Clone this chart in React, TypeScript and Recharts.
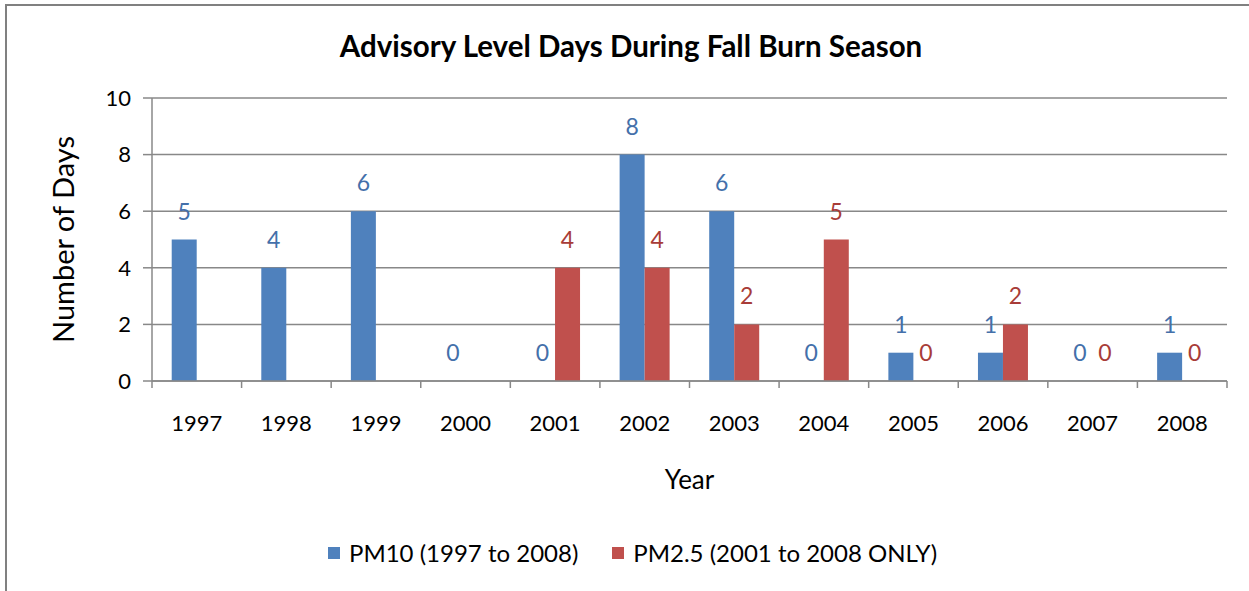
import React from 'react';
import { BarChart, Bar, XAxis, YAxis, CartesianGrid, Legend, LabelList } from 'recharts';

const years = ['1997', '1998', '1999', '2000', '2001', '2002', '2003', '2004', '2005', '2006', '2007', '2008'];
const pm10 = [5, 4, 6, 0, 0, 8, 6, 0, 1, 1, 0, 1];
const pm25: (number | null)[] = [null, null, null, null, 4, 4, 2, 5, 0, 2, 0, 0];
const yTicks = [0, 2, 4, 6, 8, 10];

const BLUE = '#4F81BD';
const RED = '#C0504D';
const AXIS = '#888';
const FONT = 'Lato, "Open Sans", sans-serif';

const data = years.map((year, i) => ({ year, pm10: pm10[i], pm25: pm25[i] }));

const legendItems = [
    { label: 'PM10 (1997 to 2008)', color: BLUE },
    { label: 'PM2.5 (2001 to 2008 ONLY)', color: RED },
];

// zero values still need their "0" label, so give them a hair-thin bar
const zeroPoint = (value: any) => (value === 0 ? 0.1 : 0);

// Excel-style: labels centred on the category, tick marks on the boundaries
const YearTick = (props: any) => {
    const { x, y, payload, index, visibleTicksCount, width } = props;
    const half = payload.offset || width / visibleTicksCount / 2;
    const top = y - 34;
    return (
        <g>
            <line x1={x - half} y1={top} x2={x - half} y2={top + 7} stroke={AXIS} strokeWidth={1.5} />
            {index === visibleTicksCount - 1 && (
                <line x1={x + half} y1={top} x2={x + half} y2={top + 7} stroke={AXIS} strokeWidth={1.5} />
            )}
            <text x={x} y={y} dy="0.71em" textAnchor="middle" fill="#000" fontSize={22} fontFamily={FONT}>
                {payload.value}
            </text>
        </g>
    );
};

const renderLegend = () => (
    <div style={{ display: 'flex', alignItems: 'center', fontFamily: FONT, fontSize: 24, color: '#000', whiteSpace: 'nowrap' }}>
        {legendItems.map((item) => (
            <div key={item.label} style={{ display: 'flex', alignItems: 'center', marginRight: 34 }}>
                <span style={{ width: 12, height: 12, background: item.color, marginRight: 9, display: 'inline-block' }} />
                <span>{item.label}</span>
            </div>
        ))}
    </div>
);

const App: React.FC = () => {
    return (
        <div style={{ position: 'absolute', left: 0, top: 0, width: 1249, height: 591, overflow: 'hidden', background: '#fff' }}>
            <div
                style={{
                    position: 'absolute',
                    left: 0,
                    top: 30,
                    width: 1262,
                    textAlign: 'center',
                    fontFamily: FONT,
                    fontWeight: 'bold',
                    fontSize: 29.5,
                    lineHeight: '32px',
                    color: '#000',
                }}
            >
                Advisory Level Days During Fall Burn Season
            </div>
            <div style={{ position: 'absolute', left: 0, top: 0 }}>
                <BarChart
                    width={1249}
                    height={591}
                    data={data}
                    margin={{ top: 98, right: 22, left: 92, bottom: 100 }}
                    barCategoryGap="22%"
                    barGap={0}
                >
                    <CartesianGrid vertical={false} stroke={AXIS} strokeWidth={1.5} />
                    <XAxis
                        dataKey="year"
                        height={110}
                        tickLine={false}
                        axisLine={{ stroke: AXIS, strokeWidth: 1.5 }}
                        tickMargin={34}
                        tickSize={0}
                        tick={<YearTick />}
                        label={{ value: 'Year', position: 'insideBottom', offset: 2, fill: '#000', fontSize: 26, fontFamily: FONT }}
                    />
                    <YAxis
                        width={60}
                        domain={[0, 10]}
                        ticks={yTicks}
                        tickSize={9}
                        tickMargin={12}
                        axisLine={{ stroke: AXIS, strokeWidth: 1.5 }}
                        tickLine={{ stroke: AXIS, strokeWidth: 1.5 }}
                        tick={{ fill: '#000', fontSize: 22, fontFamily: FONT }}
                        label={{
                            content: (props: any) => {
                                const vb = props.viewBox;
                                const cx = vb.x - 30;
                                const cy = vb.y + vb.height / 2;
                                return (
                                    <text
                                        x={cx}
                                        y={cy}
                                        transform={`rotate(-90, ${cx}, ${cy})`}
                                        textAnchor="middle"
                                        dominantBaseline="central"
                                        fill="#000"
                                        fontSize={29}
                                        fontFamily={FONT}
                                    >
                                        Number of Days
                                    </text>
                                );
                            },
                        }}
                    />
                    <Legend
                        layout="horizontal"
                        verticalAlign="middle"
                        align="center"
                        content={renderLegend}
                        wrapperStyle={{ position: 'absolute', top: 538, left: 328, width: 700, height: 30 }}
                    />
                    <Bar dataKey="pm10" fill={BLUE} minPointSize={zeroPoint} isAnimationActive={false}>
                        <LabelList dataKey="pm10" position="top" offset={20} fill="#4470AA" fontSize={23} fontFamily={FONT} />
                    </Bar>
                    <Bar dataKey="pm25" fill={RED} minPointSize={zeroPoint} isAnimationActive={false}>
                        <LabelList dataKey="pm25" position="top" offset={20} fill="#A83C38" fontSize={23} fontFamily={FONT} />
                    </Bar>
                </BarChart>
            </div>
            <div style={{ position: 'absolute', left: 5, top: 4, width: 1300, height: 2, background: '#808080', zIndex: 5 }} />
            <div style={{ position: 'absolute', left: 5, top: 4, width: 2, height: 700, background: '#808080', zIndex: 5 }} />
        </div>
    );
};

export default App;
